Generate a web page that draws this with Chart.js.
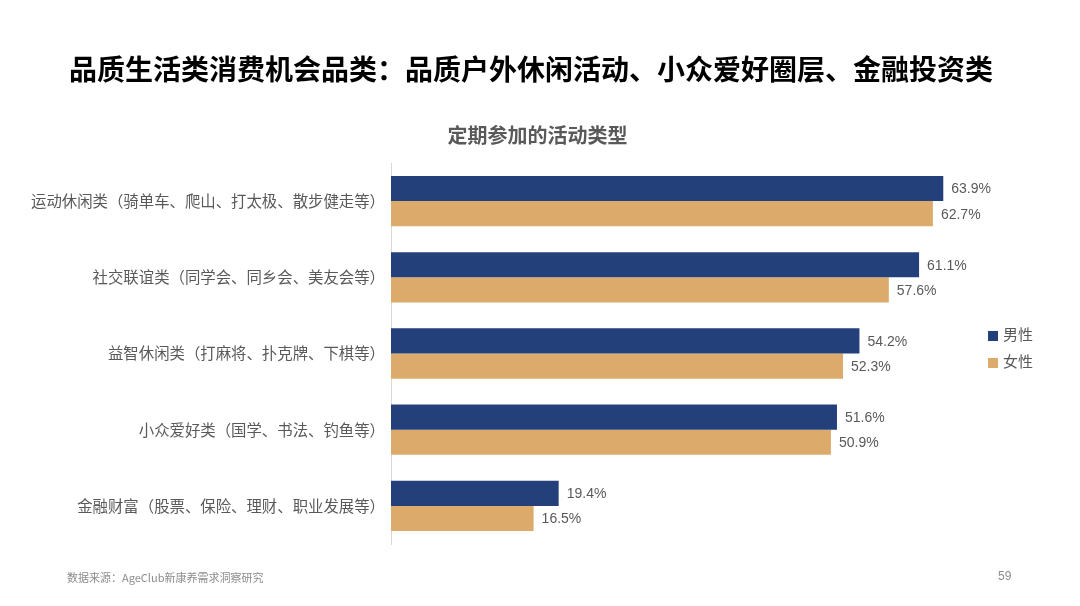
<!DOCTYPE html>
<html>
<head>
<meta charset="utf-8">
<script src="https://cdn.jsdelivr.net/npm/chart.js@4"></script>
<style>
  html, body { margin: 0; padding: 0; background: #fff; }
  #page { position: relative; width: 1080px; height: 606px; overflow: hidden;
          font-family: "Liberation Sans", "Noto Sans CJK SC", sans-serif; }
  #chart { position: absolute; left: 0; top: 0; }
  .title { position: absolute; left: 0; width: 1062px; top: 48px; text-align: center;
           font-family: "Noto Sans CJK SC", sans-serif; font-weight: bold; font-size: 28px; color: #000; }
  .subtitle { position: absolute; left: 0; width: 1075px; top: 120px; text-align: center;
              font-family: "Noto Sans CJK SC", sans-serif; font-weight: bold; font-size: 20px; color: #595959; }
  .legend { position: absolute; left: 988px; top: 323px; font-family: "Noto Sans CJK SC", sans-serif;
            font-size: 15px; color: #595959; }
  .legend div { height: 27px; line-height: 22px; }
  .legend span { display: inline-block; width: 10px; height: 10px; margin-right: 5px; vertical-align: -1px; }
  .footer { position: absolute; left: 67px; top: 569px; font-size: 11px; color: #8c8c8c;
            font-family: "Noto Sans CJK SC", sans-serif; }
  .pageno { position: absolute; left: 998px; top: 569px; font-size: 12px; color: #8c8c8c; }
</style>
</head>
<body>
<div id="page">
  <canvas id="chart" width="1080" height="606"></canvas>
  <div class="title">品质生活类消费机会品类：品质户外休闲活动、小众爱好圈层、金融投资类</div>
  <div class="subtitle">定期参加的活动类型</div>
  <div class="legend" id="legend"></div>
  <div class="footer">数据来源：AgeClub新康养需求洞察研究</div>
  <div class="pageno">59</div>
</div>
<script>
// Chart data
const categories = [
  '运动休闲类（骑单车、爬山、打太极、散步健走等）',
  '社交联谊类（同学会、同乡会、美友会等）',
  '益智休闲类（打麻将、扑克牌、下棋等）',
  '小众爱好类（国学、书法、钓鱼等）',
  '金融财富（股票、保险、理财、职业发展等）'
];
const seriesNames = ['男性', '女性'];
const maleValues = [63.9, 61.1, 54.2, 51.6, 19.4];
const femaleValues = [62.7, 57.6, 52.3, 50.9, 16.5];

const COLORS = {
  male: '#24407a',
  female: '#dcab6b',
  text: '#595959',
  axis: '#d9d9d9'
};

// Value labels at the end of each bar
const valueLabels = {
  id: 'valueLabels',
  afterDatasetsDraw(chart) {
    const ctx = chart.ctx;
    ctx.save();
    ctx.font = '14px "Liberation Sans", sans-serif';
    ctx.fillStyle = COLORS.text;
    ctx.textAlign = 'left';
    ctx.textBaseline = 'middle';
    chart.data.datasets.forEach((ds, i) => {
      chart.getDatasetMeta(i).data.forEach((bar, j) => {
        ctx.fillText(ds.data[j].toFixed(1) + '%', bar.x + 8, bar.y + 1);
      });
    });
    ctx.restore();
  }
};

function buildLegend() {
  const box = document.getElementById('legend');
  const colors = [COLORS.male, COLORS.female];
  box.innerHTML = seriesNames.map((n, i) =>
    `<div><span style="background:${colors[i]}"></span>${n}</div>`).join('');
}

function initChart() {
  const chartCanvas = document.getElementById('chart');
  new Chart(chartCanvas, {
    type: 'bar',
    data: {
      labels: categories,
      datasets: [{
        label: seriesNames[0],
        data: maleValues,
        backgroundColor: COLORS.male,
        categoryPercentage: 0.66,
        barPercentage: 1
      }, {
        label: seriesNames[1],
        data: femaleValues,
        backgroundColor: COLORS.female,
        categoryPercentage: 0.66,
        barPercentage: 1
      }]
    },
    options: {
      indexAxis: 'y',
      responsive: false,
      animation: false,
      layout: {
        padding: { left: 0, top: 163, bottom: 62, right: 84 }
      },
      scales: {
        x: {
          display: false,
          min: 0,
          max: 70
        },
        y: {
          afterFit(scale) { scale.width = 391; },
          grid: { display: false, drawTicks: false },
          border: { display: true, color: COLORS.axis, width: 1 },
          ticks: {
            padding: 6,
            color: COLORS.text,
            font: { size: 15.4, family: '"Noto Sans CJK SC", sans-serif' }
          }
        }
      },
      plugins: {
        legend: { display: false },
        tooltip: { enabled: false }
      }
    },
    plugins: [valueLabels]
  });
}

buildLegend();
initChart();
</script>
</body>
</html>
